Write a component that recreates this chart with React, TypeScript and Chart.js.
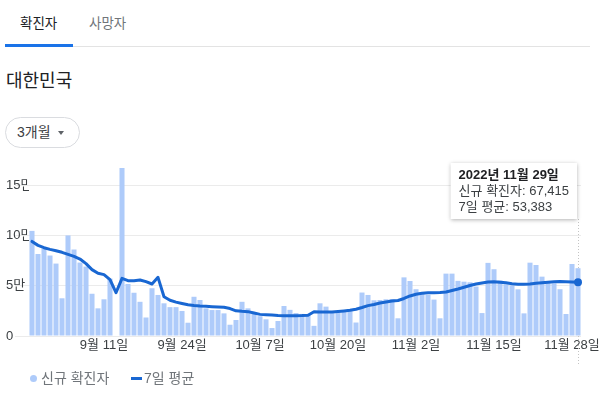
import React, { useEffect, useRef } from 'react';
import { Chart, registerables } from 'chart.js';

Chart.register(...registerables);

const FONT = "Arial, 'Liberation Sans', 'Noto Sans CJK KR', sans-serif";

const YEAR = 2022;
const FIRST_DATE = [8, 30]; // month, day
const DAY_COUNT = 92;

// New confirmed cases per day (null = no report)
const NEW_CASES: (number | null)[] = [
  104500, 81500, 87000, 80000, 72000, 37500, 100000, 86000, 73000, 69000,
  42000, 27500, 36500, 57000, null, 167000, 51700, 43000, 34000, 18400,
  47500, 40800, 32500, 28700, 28700, 24900, 13200, 39000, 35800, 27500,
  25800, 25800, 22500, 11200, 15900, 34000, 27500, 23500, 19700, 16600,
  7900, 14900, 29800, 26000, 22800, 22000, 20900, 10100, 32500, 29200,
  24600, 24200, 24400, 24800, 13400, 43200, 40800, 35500, 35800, 36500,
  36800, 17600, 58300, 54700, 46500, 42400, 41000, 36200, 17600, 62000,
  62000, 54800, 54000, 53400, 49200, 22800, 72700, 66400, 55200, 51400,
  50300, 46400, 22500, 72900, 70600, 59000, 53000, 52300, 46500, 21900,
  71600, 67415,
];

// 7-day average
const AVG_7: number[] = [
  94000, 90100, 87800, 86100, 84800, 83200, 81200, 79200, 76500, 72000,
  66000, 62300, 61000, 56000, 43000, 57300, 55000, 55000, 55700, 54000,
  51700, 58300, 39000, 35500, 33700, 32300, 31000, 30300, 29800, 29500,
  29100, 28800, 28500, 27300, 25000, 24500, 24200, 22800, 21500, 21200,
  20900, 20400, 20200, 20100, 20100, 20300, 20700, 24100, 23900, 23800,
  23900, 24400, 24900, 25500, 26600, 28300, 30200, 31300, 32800, 33800,
  34800, 35300, 37300, 39800, 41500, 42400, 42900, 43100, 43300, 43700,
  45200, 46700, 48400, 50200, 51700, 52700, 53700, 54000, 53500, 52900,
  52000, 51500, 51400, 51700, 52400, 52900, 53500, 53900, 54200, 54000,
  53700, 53383,
];

const TICK_LABELS = ['9월 11일', '9월 24일', '10월 7일', '10월 20일', '11월 2일', '11월 15일', '11월 28일'];
const Y_TICKS = [0, 50000, 100000, 150000];
const Y_MAX = 170000;

const SERIES_NAMES = ['신규 확진자', '7일 평균'];
const BAR_COLOR = '#aecbfa';
const LINE_COLOR = '#1967d2';

function buildLabels(): { label: string; month: number; day: number }[] {
  const out: { label: string; month: number; day: number }[] = [];
  const d = new Date(YEAR, FIRST_DATE[0] - 1, FIRST_DATE[1]);
  for (let i = 0; i < DAY_COUNT; i++) {
    const m = d.getMonth() + 1;
    const day = d.getDate();
    out.push({ label: `${m}월 ${day}일`, month: m, day });
    d.setDate(d.getDate() + 1);
  }
  return out;
}

const DATES = buildLabels();
const LABELS = DATES.map((d) => d.label);

const fmt = (v: number) => v.toLocaleString('en-US');

const tipPlugin = {
  id: 'fixedTip',
  beforeDatasetsDraw(chart: any) {
    const ctx = chart.ctx;
    const i = LABELS.length - 1;
    const x = Math.round(chart.scales.x.getPixelForValue(i)) + 0.5;
    ctx.save();
    ctx.strokeStyle = '#c4c4c4';
    ctx.lineWidth = 1;
    ctx.setLineDash([1, 2]);
    ctx.beginPath();
    ctx.moveTo(x, 69);
    ctx.lineTo(x, chart.chartArea.bottom + 28);
    ctx.stroke();
    ctx.restore();
  },
  afterDraw(chart: any) {
    const ctx = chart.ctx;
    const i = LABELS.length - 1;
    const x = chart.scales.x.getPixelForValue(i);
    const d = DATES[i];
    const title = `${YEAR}년 ${d.month}월 ${d.day}일`;
    const l1 = `${SERIES_NAMES[0]}: ${fmt(NEW_CASES[i] as number)}`;
    const l2 = `${SERIES_NAMES[1]}: ${fmt(AVG_7[i])}`;
    ctx.save();
    ctx.font = `bold 13px ${FONT}`;
    const w0 = ctx.measureText(title).width;
    ctx.font = `13px ${FONT}`;
    const w1 = ctx.measureText(l1).width;
    const w2 = ctx.measureText(l2).width;
    const w = Math.max(w0, w1, w2) + 16;
    const h = 56;
    const right = Math.round(x) - 1;
    const left = right - w;
    const top = 13;
    ctx.shadowColor = 'rgba(0,0,0,0.3)';
    ctx.shadowBlur = 4;
    ctx.shadowOffsetY = 1;
    ctx.fillStyle = '#ffffff';
    ctx.fillRect(left, top, w, h);
    ctx.shadowColor = 'transparent';
    ctx.textBaseline = 'middle';
    ctx.textAlign = 'left';
    ctx.fillStyle = '#202124';
    ctx.font = `bold 13px ${FONT}`;
    ctx.fillText(title, left + 8, top + 12);
    ctx.font = `13px ${FONT}`;
    ctx.fillStyle = '#3c4043';
    ctx.fillText(l1, left + 8, top + 28);
    ctx.fillText(l2, left + 8, top + 44);
    ctx.restore();
  },
};

function CovidChart() {
  const ref = useRef<HTMLCanvasElement>(null);
  useEffect(() => {
    if (!ref.current) return;
    const lastIdx = LABELS.length - 1;
    const chart = new Chart(ref.current, {
      type: 'bar',
      data: {
        labels: LABELS,
        datasets: [
          {
            type: 'line' as const,
            label: SERIES_NAMES[1],
            data: AVG_7,
            borderColor: LINE_COLOR,
            backgroundColor: LINE_COLOR,
            borderWidth: 3,
            tension: 0,
            borderJoinStyle: 'round',
            borderCapStyle: 'round',
            pointRadius: (c: any) => (c.dataIndex === lastIdx ? 4 : 0),
            pointBackgroundColor: LINE_COLOR,
            pointBorderWidth: 0,
            order: 0,
          } as any,
          {
            type: 'bar' as const,
            label: SERIES_NAMES[0],
            data: NEW_CASES,
            backgroundColor: BAR_COLOR,
            barPercentage: 0.84,
            categoryPercentage: 1,
            order: 1,
          } as any,
        ],
      },
      options: {
        animation: false,
        responsive: false,
        events: [],
        layout: { padding: { left: 6, right: 18, top: 15, bottom: 0 } },
        plugins: { legend: { display: false }, tooltip: { enabled: false } },
        scales: {
          x: {
            offset: true,
            grid: { display: false, drawTicks: false },
            border: { display: false },
            afterFit: (s: any) => { s.height = 44; },
            ticks: {
              autoSkip: false,
              maxRotation: 0,
              minRotation: 0,
              padding: 2,
              color: '#3c4043',
              font: { family: FONT, size: 13 },
              callback: (_v: any, idx: number) => (TICK_LABELS.includes(LABELS[idx]) ? LABELS[idx] : ''),
            },
          },
          y: {
            min: 0,
            max: Y_MAX,
            afterFit: (s: any) => { s.width = 23; },
            afterBuildTicks: (s: any) => { s.ticks = Y_TICKS.map((v) => ({ value: v })); },
            grid: { color: '#ebebeb', drawTicks: true, tickLength: 14, tickColor: '#ebebeb' },
            border: { display: false },
            ticks: {
              z: 1,
              crossAlign: 'far',
              padding: 0,
              color: '#3c4043',
              font: { family: FONT, size: 13 },
              callback: (v: any) => (v === 0 ? '0' : `${v / 10000}만`),
            },
          },
        },
      } as any,
      plugins: [tipPlugin],
    });
    return () => chart.destroy();
  }, []);
  return (
    <canvas
      ref={ref}
      width={599}
      height={230}
      style={{ position: 'absolute', left: 0, top: 150, width: 599, height: 230 }}
    />
  );
}

export default function App() {
  const base: React.CSSProperties = { position: 'absolute', fontFamily: FONT, whiteSpace: 'nowrap' };
  return (
    <div style={{ position: 'absolute', left: 0, top: 0, width: 599, height: 397, background: '#fff', overflow: 'hidden' }}>
      <div style={{ ...base, left: 20, top: 15, fontSize: 13.5, lineHeight: '18px', color: '#202124' }}>확진자</div>
      <div style={{ ...base, left: 89, top: 15, fontSize: 13.5, lineHeight: '18px', color: '#70757a' }}>사망자</div>
      <div style={{ position: 'absolute', left: 73, top: 46, width: 517, height: 1, background: '#e3e3e3' }} />
      <div style={{ position: 'absolute', left: 5, top: 44, width: 68, height: 3, background: '#1a73e8' }} />
      <div style={{ ...base, left: 6, top: 70, fontSize: 18, lineHeight: '22px', color: '#202124' }}>대한민국</div>
      <div
        style={{
          position: 'absolute', left: 5, top: 117, width: 75, height: 31, boxSizing: 'border-box',
          border: '1px solid #dadce0', borderRadius: 16,
        }}
      />
      <div style={{ ...base, left: 17, top: 123, fontSize: 14, lineHeight: '19px', color: '#3c4043' }}>3개월</div>
      <div
        style={{
          position: 'absolute', left: 58, top: 131, width: 0, height: 0,
          borderLeft: '3px solid transparent', borderRight: '3px solid transparent', borderTop: '4px solid #5f6368',
        }}
      />
      <CovidChart />
      <div style={{ position: 'absolute', left: 30, top: 375, width: 7, height: 7, borderRadius: '50%', background: BAR_COLOR }} />
      <div style={{ ...base, left: 41, top: 369, fontSize: 14, lineHeight: '19px', color: '#70757a' }}>{SERIES_NAMES[0]}</div>
      <div style={{ position: 'absolute', left: 131, top: 377, width: 11, height: 3, background: LINE_COLOR }} />
      <div style={{ ...base, left: 144, top: 369, fontSize: 14, lineHeight: '19px', color: '#70757a' }}>{SERIES_NAMES[1]}</div>
    </div>
  );
}
